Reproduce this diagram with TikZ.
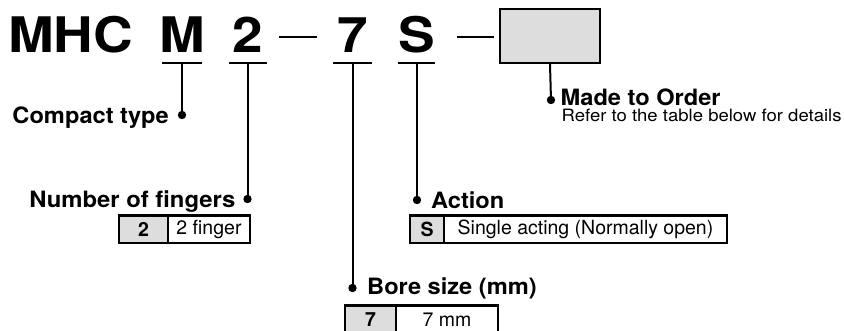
\documentclass[tikz,border=0pt]{standalone}
\usepackage{fontspec}
\setmainfont{TeX Gyre Heros}
\definecolor{cellgray}{HTML}{DDDDDD}
\newcommand{\wide}[2]{\scalebox{#1}[1]{#2}}
\begin{document}
\begin{tikzpicture}[x=1pt,y=-1pt,
  title/.style={inner sep=0pt, anchor=base, font=\fontsize{49}{49}\selectfont\bfseries},
  lab/.style={inner sep=0pt, anchor=base, font=\fontsize{22.5}{22.5}\selectfont\bfseries},
  note/.style={inner sep=0pt, anchor=base west, font=\fontsize{17}{17}\selectfont},
  ul/.style={line width=2.2pt},
  conn/.style={line width=2pt},
  dash line/.style={line width=2.6pt},
  dotmark/.style={fill=black},
  keycell/.style={draw, line width=1.2pt, fill=cellgray, inner sep=0pt, minimum height=27pt,
    font=\fontsize{19.5}{19.5}\selectfont\bfseries},
  valcell/.style={draw, line width=1.2pt, fill=white, inner sep=0pt, minimum height=27pt,
    font=\fontsize{19.5}{19.5}\selectfont},
  topline/.style={line width=2.2pt}
]
\useasboundingbox (0,0) rectangle (844,330);

% title letters
\node[title] (mhc) at (70.5,52) {\wide{1.12}{MHC}};
\node[title] (lm) at (182.5,52) {\wide{1.12}{M}};
\node[title] (l2) at (248,52) {\wide{1.12}{2}};
\node[title] (l7) at (353,52) {\wide{1.12}{7}};
\node[title] (ls) at (416.5,52) {\wide{1.12}{S}};

% dashes
\coordinate (d1a) at (279,37); \coordinate (d1b) at (317,37);
\coordinate (d2a) at (457,37); \coordinate (d2b) at (494,37);
\draw[dash line] (d1a) -- (d1b);
\draw[dash line] (d2a) -- (d2b);

% made to order box
\node[draw, line width=2pt, fill=cellgray, minimum width=100pt, minimum height=54pt, inner sep=0pt] (box) at (550,36) {};

% underline anchors
\coordinate (mU) at (182,63);
\coordinate (tU) at (247.5,63);
\coordinate (sU) at (352.5,63);
\coordinate (aU) at (417,63);
\draw[ul] ([xshift=-20pt]mU) -- ([xshift=20pt]mU);
\draw[ul] ([xshift=-18.5pt]tU) -- ([xshift=19.5pt]tU);
\draw[ul] ([xshift=-19.5pt]sU) -- ([xshift=19.5pt]sU);
\draw[ul] ([xshift=-19pt]aU) -- ([xshift=18pt]aU);

% dot end points
\coordinate (mD) at (182,115);
\coordinate (tD) at (247.5,199);
\coordinate (sD) at (352.5,288);
\coordinate (aD) at (417,200);
\coordinate (oD) at (551,100);

\draw[conn] (mU) -- (mD);
\draw[conn] (tU) -- (tD);
\draw[conn] (sU) -- (sD);
\draw[conn] (aU) -- (aD);
\draw[conn] (box.south) -- (oD);
\foreach \p in {mD,tD,sD,aD,oD} \fill[dotmark] (\p) circle (4.2pt);

% labels
\node[lab, anchor=base east] (lcompact) at (169,123) {\wide{1.05}{Compact type}};
\node[lab, anchor=base east] (lfingers) at (235.5,207) {\wide{1.06}{Number of fingers}};
\node[lab, anchor=base west] (lorder) at (560.5,105.5) {\wide{1.05}{Made to Order}};
\node[note] (lrefer) at (561.5,121.5) {\wide{1.09}{Refer to the table below for details}};
\node[lab, anchor=base west] (laction) at (431,208) {\wide{1.05}{Action}};
\node[lab, anchor=base west] (lbore) at (367,294) {\wide{1.05}{Bore size (mm)}};

% table: number of fingers
\node[keycell, minimum width=49pt] (f2k) at (143.5,229.5) {2};
\node[valcell, minimum width=82pt] (f2v) at (209,229.5) {2 finger};
\draw[topline] (f2k.north west) -- (f2v.north east);

% table: action
\node[keycell, minimum width=34pt] (ask) at (427,229.5) {S};
\node[valcell, minimum width=283pt] (asv) at (585.5,229.5) {Single acting (Normally open)};
\draw[topline] (ask.north west) -- (asv.north east);

% table: bore size
\node[keycell, minimum width=51pt] (b7k) at (370.5,319.5) {7};
\node[valcell, minimum width=102pt] (b7v) at (447,319.5) {7 mm};
\draw[topline] (b7k.north west) -- (b7v.north east);
\end{tikzpicture}
\end{document}
